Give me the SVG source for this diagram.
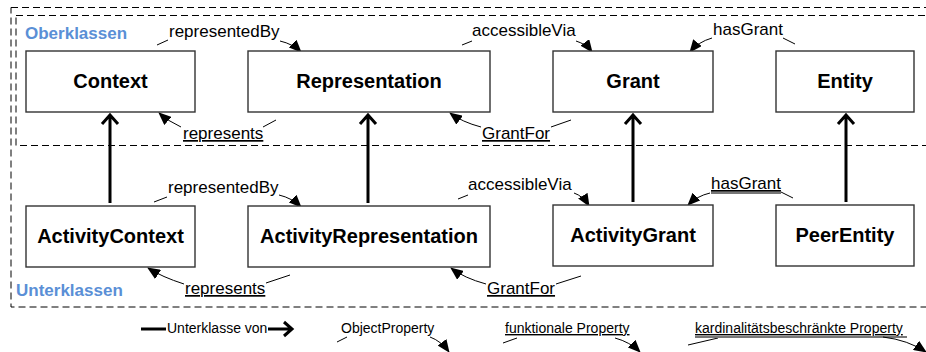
<svg xmlns="http://www.w3.org/2000/svg" width="926" height="352" viewBox="0 0 926 352">
<defs>
<style>
.box{fill:#fff;stroke:#333;stroke-width:1.4}
.nl{font-family:"Liberation Sans",Arial,sans-serif;font-size:20px;font-weight:bold;fill:#000;text-anchor:middle}
.el{font-family:"Liberation Sans",Arial,sans-serif;font-size:17px;fill:#000}
.lg{font-family:"Liberation Sans",Arial,sans-serif;font-size:14px;fill:#000}
.u{text-decoration:underline}
.grp{font-family:"Liberation Sans",Arial,sans-serif;font-size:17px;font-weight:bold;fill:#5a8fd6}
.dash{fill:none;stroke:#000;stroke-width:1;stroke-dasharray:7 4}
.inh{fill:none;stroke:#000;stroke-width:3}
.prop{fill:none;stroke:#000;stroke-width:1}
.prop-a{fill:none;stroke:#000;stroke-width:1;marker-end:url(#fa)}
.card{stroke:#777;stroke-width:2}
</style>
<marker id="fa" viewBox="0 0 13 11" refX="12" refY="5.5" markerWidth="13" markerHeight="11" markerUnits="userSpaceOnUse" orient="auto">
<path d="M0,0 L13,5.5 L0,11 z" fill="#000"/>
</marker>
</defs>
<rect width="926" height="352" fill="#fff"/>

<g id="groups">
<rect class="dash" x="11" y="7.5" width="930" height="299.5"/>
<rect class="dash" x="16" y="15.5" width="925" height="130"/>
<text class="grp" x="25" y="39">Oberklassen</text>
<text class="grp" x="16" y="296">Unterklassen</text>
</g>

<g id="connectors">
<!-- inheritance -->
<path class="inh" d="M110,203 L110,116 M102,124 L110,115 L118,124"/>
<path class="inh" d="M368,203 L368,116 M360,124 L368,115 L376,124"/>
<path class="inh" d="M633,202 L633,116 M625,124 L633,115 L641,124"/>
<path class="inh" d="M846,202 L846,116 M838,124 L846,115 L854,124"/>

<!-- top row properties -->
<path class="prop" d="M157,45 L168,40"/>
<text class="el" x="169" y="37">representedBy</text>
<path class="prop-a" d="M280,41 Q293,44 301,52"/>

<path class="prop" d="M276,120 L263,127"/>
<text class="el u" x="183" y="139">represents</text>
<path class="prop-a" d="M181,127 Q168,121 159,113"/>

<path class="prop" d="M462,45 L472,41"/>
<text class="el" x="472" y="36">accessibleVia</text>
<path class="prop-a" d="M576,41 Q586,44 592,52"/>

<path class="prop" d="M571,120 L551,127"/>
<text class="el u" x="482" y="139">GrantFor</text>
<path class="prop-a" d="M481,127 Q462,122 450,113"/>

<text class="el" x="713" y="35">hasGrant</text>
<path class="prop" d="M783,38 L795,44"/>
<path class="prop-a" d="M712,38 Q698,42 690,52"/>

<!-- bottom row properties -->
<path class="prop" d="M154,202 L167,197"/>
<text class="el" x="168" y="193">representedBy</text>
<path class="prop-a" d="M279,195 Q292,198 301,207"/>

<path class="prop" d="M290,275 L266,283"/>
<text class="el u" x="185" y="294">represents</text>
<path class="prop-a" d="M184,284 Q162,277 148,268"/>

<path class="prop" d="M458,199 L468,195"/>
<text class="el" x="468" y="190">accessibleVia</text>
<path class="prop-a" d="M574,193 Q583,196 589,206"/>

<path class="prop" d="M581,276 L556,284"/>
<text class="el u" x="487" y="294">GrantFor</text>
<path class="prop-a" d="M486,284 Q464,278 451,268"/>

<text class="el u" x="711" y="189">hasGrant</text>
<line class="card" x1="711" y1="193" x2="781" y2="193"/>
<path class="prop" d="M781,192 L793,198"/>
<path class="prop-a" d="M710,193 Q697,196 688,205"/>
</g>

<g id="Context"><rect class="box" x="26" y="51" width="169" height="61"/><text class="nl" x="110.5" y="88">Context</text></g>
<g id="Representation"><rect class="box" x="248" y="51" width="242" height="61"/><text class="nl" x="369" y="88">Representation</text></g>
<g id="Grant"><rect class="box" x="553" y="51" width="160" height="61"/><text class="nl" x="633" y="88">Grant</text></g>
<g id="Entity"><rect class="box" x="776" y="51" width="138" height="61"/><text class="nl" x="845" y="88">Entity</text></g>

<g id="ActivityContext"><rect class="box" x="26" y="206" width="169" height="61"/><text class="nl" x="110.5" y="243">ActivityContext</text></g>
<g id="ActivityRepresentation"><rect class="box" x="248" y="206" width="242" height="61"/><text class="nl" x="369" y="243">ActivityRepresentation</text></g>
<g id="ActivityGrant"><rect class="box" x="553" y="205" width="160" height="61"/><text class="nl" x="633" y="242">ActivityGrant</text></g>
<g id="PeerEntity"><rect class="box" x="776" y="205" width="138" height="61"/><text class="nl" x="845" y="242">PeerEntity</text></g>

<g id="legend">
<path class="inh" d="M141,329 L166,329"/>
<text class="lg" x="167" y="333">Unterklasse von</text>
<path class="inh" d="M268,329 L292,329 M284,322 L292,329 L284,336"/>

<path class="prop" d="M337,342 L347,337"/>
<text class="lg" x="341" y="333">ObjectProperty</text>
<path class="prop-a" d="M430,337 Q441,341 449,352"/>

<path class="prop" d="M503,343 L517,338"/>
<text class="lg u" x="505" y="333">funktionale Property</text>
<path class="prop-a" d="M615,338 Q630,342 640,352"/>

<path class="prop" d="M688,345 L718,338"/>
<text class="lg u" x="695" y="333">kardinalitätsbeschränkte Property</text>
<line class="card" x1="695" y1="337" x2="907" y2="337"/>
<path class="prop-a" d="M883,337 Q908,340 926,352"/>
</g>
</svg>
